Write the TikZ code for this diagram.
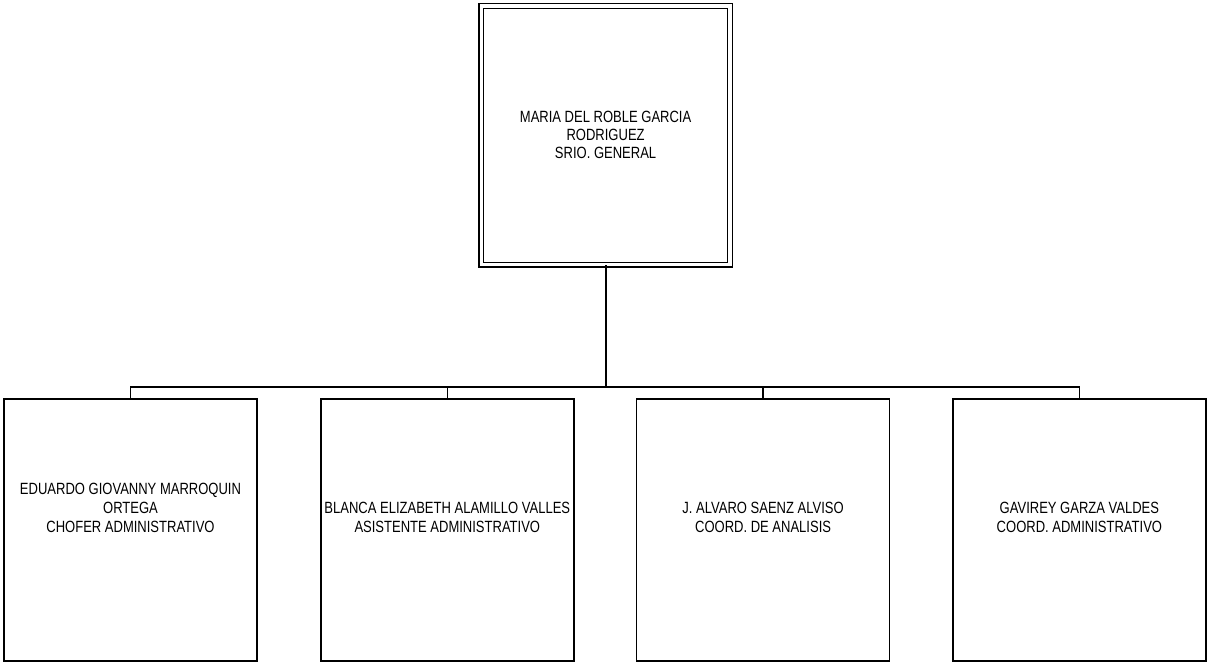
\documentclass[tikz,border=0pt]{standalone}
\usepackage{fontspec}
\setmainfont[FakeStretch=0.8]{Liberation Sans}
\usepackage{tikz}
\usetikzlibrary{positioning,calc}
\tikzset{
  boss/.style ={draw,double,line width=1.1pt,double distance=2.3pt,align=center,
                inner sep=2pt,minimum width=186.6pt,minimum height=193.9pt,
                font=\fontsize{12.2}{13.5}\selectfont},
  staff/.style={draw,line width=1.1pt,inner sep=0pt,
                minimum width=189.75pt,minimum height=196.5pt},
  who/.style  ={align=center,inner sep=0pt,font=\fontsize{12.2}{14}\selectfont},
  trunk/.style={line width=1.6pt},
  link/.style ={line width=1.1pt},
}
\begin{document}
\begin{tikzpicture}[x=0.75pt,y=-0.75pt]
  \useasboundingbox (0,0) rectangle (1207,661);
  \node[boss] (sg) at (605.6,135.25){MARIA DEL ROBLE GARCIA\\RODRIGUEZ\\SRIO. GENERAL};
  \coordinate (bus) at (605.6,387);
  % staff boxes
  \node[staff] (c1) at (130.5,530){};
  \node[staff] (c2) at (447.3,530){};
  \node[staff] (c3) at (763.1,530){};
  \node[staff] (c4) at (1079.4,530){};
  \node[who] (n1) at ($(c1.center)+(0,-22)$){EDUARDO GIOVANNY MARROQUIN\\ORTEGA\\CHOFER ADMINISTRATIVO};
  \node[who] (n2) at ($(c2.center)+(0,-12.5)$){BLANCA ELIZABETH ALAMILLO VALLES\\ASISTENTE ADMINISTRATIVO};
  \node[who] (n3) at ($(c3.center)+(0,-12.5)$){J. ALVARO SAENZ ALVISO\\COORD. DE ANALISIS};
  \node[who] (n4) at ($(c4.center)+(0,-12.5)$){GAVIREY GARZA VALDES\\COORD. ADMINISTRATIVO};
  % connectors
  \draw[trunk] (sg.south) -- (bus);
  \foreach \c in {c1,c2,c3,c4}
    \draw[link] (bus) -| (\c.north);
\end{tikzpicture}
\end{document}
